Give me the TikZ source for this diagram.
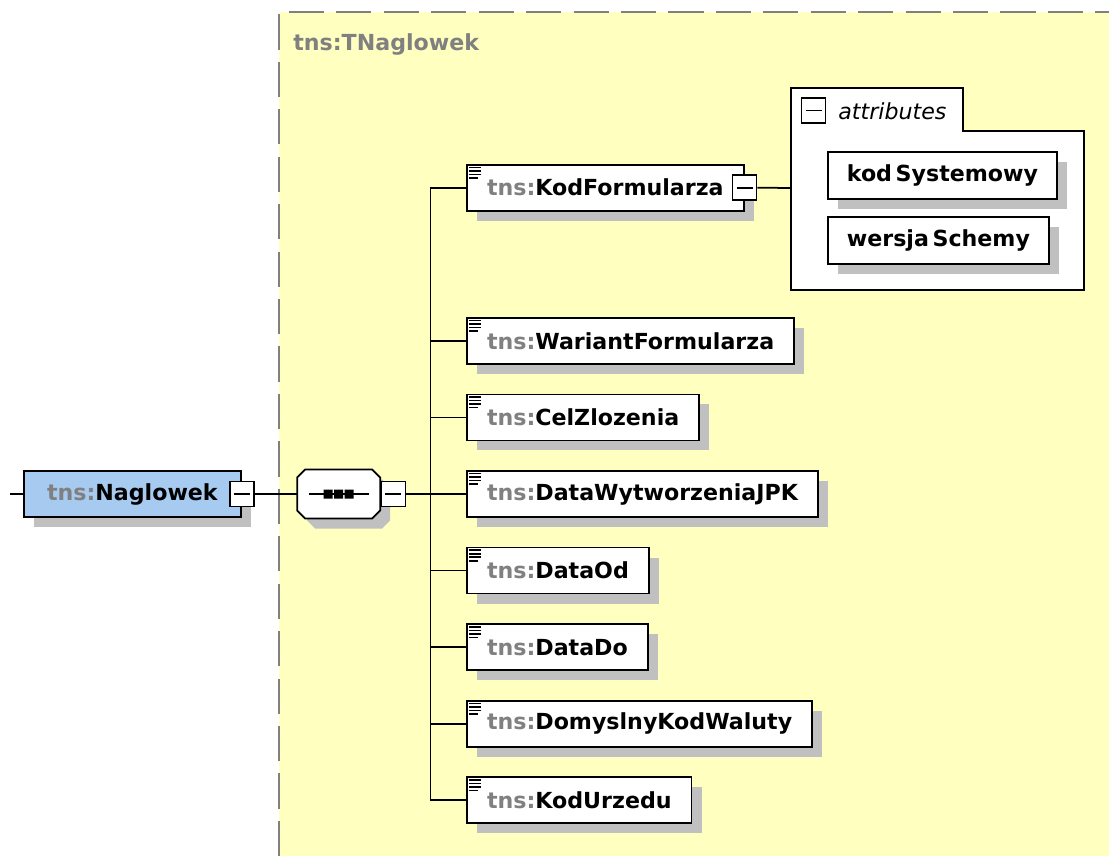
\documentclass[tikz,border=0pt]{standalone}
\usepackage{fontspec}
\setmainfont{DejaVu Sans}
\usetikzlibrary{shadows}

\definecolor{xsdyellow}{RGB}{255,255,192}
\definecolor{xsdblue}{RGB}{166,202,240}
\definecolor{xsdgray}{RGB}{128,128,128}
\definecolor{xsdshadow}{RGB}{192,192,192}

\newcommand{\pfx}{\textcolor{xsdgray}{tns:}}

\tikzset{
  xsdshade/.style = {drop shadow={shadow xshift=0.2cm, shadow yshift=-0.2cm,
                                  fill=xsdshadow, opacity=1}},
  xsdtext/.style  = {font=\fontsize{12.6}{15}\selectfont\bfseries, text=black},
  elem/.style     = {xsdtext, draw, line width=1pt, fill=white, xsdshade,
                     minimum height=0.92cm, inner xsep=0.4cm, anchor=west},
  attelem/.style  = {xsdtext, draw, line width=1pt, fill=white, xsdshade,
                     minimum height=0.94cm, inner xsep=0.38cm, anchor=west},
  minus/.style    = {draw, fill=white, line width=1pt, inner sep=0pt,
                     minimum width=0.48cm, minimum height=0.5cm,
                     path picture={
                       \draw[line width=1.1pt]
                         ([xshift=-0.16cm]path picture bounding box.center) --
                         ([xshift=0.16cm]path picture bounding box.center);}},
}

\begin{document}
\begin{tikzpicture}[
  x=0.02cm, y=-0.02cm,
  grow'=east,
  edge from parent/.style = {draw, line width=1pt},
  nag/.style = {xsdtext, draw, line width=1pt, fill=xsdblue, xsdshade,
                minimum height=0.92cm, minimum width=4.34cm, inner xsep=0.4cm,
                anchor=west},
  seqbox/.style = {anchor=west, inner sep=0pt,
                   minimum width=1.66cm, minimum height=0.98cm},
  level 1/.style = {level distance=3.29cm,
                    edge from parent path={(\tikzparentnode.east) ++(12,0) -- (\tikzchildnode.west)}},
  level 2/.style = {level distance=2.55cm, sibling distance=1.532cm,
                    edge from parent path={(\tikzparentnode.east) ++(25,0) -- ++(25,0) |- (\tikzchildnode.west)}},
]
  \useasboundingbox (0,0) rectangle (1109,856);
  \fill[white] (0,0) rectangle (1109,856);

  % complex type area
  \fill[xsdyellow] (279,12) rectangle (1109,856);
  \draw[xsdgray, line width=1.2pt, dash pattern=on 20pt off 7pt]
    (279,856) -- (279,12) -- (1109,12);
  \node[xsdtext, text=xsdgray, anchor=west, inner sep=0pt] (title) at (293,44) {tns:TNaglowek};

  \coordinate (in) at (10,494);
  \node[nag] (nag) at (23,494) {\pfx Naglowek\hspace{0.1cm}}
    child {node[seqbox] (seq) {}
      child {node[elem] (kf) {\pfx KodFormularza\hspace{0.16cm}}}
      child[missing]
      child {node[elem] (wf) {\pfx WariantFormularza}}
      child {node[elem] (cz) {\pfx CelZlozenia}}
      child {node[elem] (dw) {\pfx DataWytworzeniaJPK}}
      child {node[elem] (dod) {\pfx DataOd}}
      child {node[elem] (ddo) {\pfx DataDo}}
      child {node[elem] (dkw) {\pfx DomyslnyKodWaluty}}
      child {node[elem] (ku) {\pfx KodUrzedu}}
    };
  \draw[line width=1pt] (in) -- (nag.west);

  % sequence compositor
  \fill[xsdshadow, shift={(seq.center)}] (-31.5,-6.5) -- (-23.5,-14.5) -- (43.5,-14.5)
    -- (51.5,-6.5) -- (51.5,26.5) -- (43.5,34.5) -- (-23.5,34.5) -- (-31.5,26.5) -- cycle;
  \draw[line width=1pt, fill=white, shift={(seq.center)}]
    (-41.5,-16.5) -- (-33.5,-24.5) -- (33.5,-24.5) -- (41.5,-16.5)
    -- (41.5,16.5) -- (33.5,24.5) -- (-33.5,24.5) -- (-41.5,16.5) -- cycle;
  \draw[line width=1pt, shift={(seq.center)}] (-30,0) -- (30,0);
  \fill[shift={(seq.center)}]
    (-15,-4.5) rectangle (-6,4.5)
    (-4.5,-4.5) rectangle (4.5,4.5)
    (6,-4.5) rectangle (15,4.5);

  % element icons
  \foreach \e in {kf,wf,cz,dw,dod,ddo,dkw,ku}
    \draw[line width=0.9pt, shift={(\e.north west)}]
      (3,3.5) -- (15,3.5) (3,7) -- (15,7) (3,10.5) -- (15,10.5) (3,14) -- (12,14);

  % collapse boxes
  \node[minus] (nag-m) at (nag.east) {};
  \node[minus, anchor=west] (seq-m) at (seq.east) {};
  \node[minus] (kf-m) at (kf.east) {};

  % attributes of KodFormularza
  \path[draw, fill=white, line width=1pt]
    (791,88) -- (963,88) -- (963,131) -- (1084,131) -- (1084,290) -- (791,290) -- cycle;
  \coordinate (attr) at (791,188);
  \draw[line width=1pt] (kf-m.east) -- (attr);
  \node[minus] (attr-m) at (813.5,110.5) {};
  \node[font=\fontsize{12.6}{15}\selectfont\itshape, anchor=west, inner sep=0pt] (attr-t) at (838,111) {attributes};
  \node[attelem] (ks) at (827,175.5) {kod\,Systemowy};
  \node[attelem] (ws) at (827,240.5) {wersja\,Schemy};
\end{tikzpicture}
\end{document}
